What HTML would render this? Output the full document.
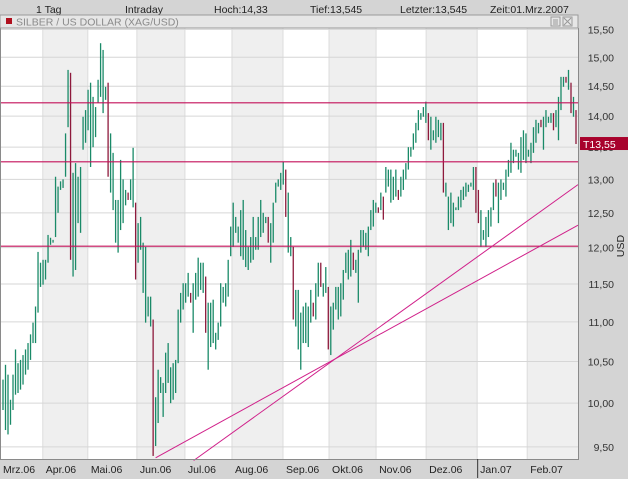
<!DOCTYPE html>
<html><head><meta charset="utf-8"><style>
html,body{margin:0;padding:0;background:#d4d4d4;}
svg{display:block;font-family:"Liberation Sans",Arial,sans-serif;}
</style></head><body>
<svg id="chart" width="628" height="479" viewBox="0 0 628 479" xmlns="http://www.w3.org/2000/svg">
<rect x="0" y="0" width="628" height="479" fill="#d4d4d4"/>
<g font-size="10.5" fill="#222">
<text x="36" y="13">1 Tag</text>
<text x="125" y="13">Intraday</text>
<text x="214" y="13">Hoch:14,33</text>
<text x="310" y="13">Tief:13,545</text>
<text x="400" y="13">Letzter:13,545</text>
<text x="490" y="13">Zeit:01.Mrz.2007</text>
</g>
<g id="plot"></g>
<g>
<rect x="0" y="15" width="578" height="13" fill="#e6e6e6" stroke="#9a9a9a" stroke-width="1"/>
<rect x="6" y="18" width="6" height="6" fill="#b0101e"/>
<text x="16" y="25.5" font-size="10.5" fill="#8a8a8a">SILBER / US DOLLAR (XAG/USD)</text>
<rect x="551" y="17" width="9" height="9" fill="none" stroke="#999"/>
<rect x="563" y="17" width="9" height="9" fill="none" stroke="#999"/>
<path d="M564 18 L571 25 M571 18 L564 25 M553 20h5 M553 22h5 M553 24h5" stroke="#999" stroke-width="1"/>
</g>
<g id="yaxis" font-size="10.5" fill="#333"></g>
<g id="xaxis" font-size="10.5" fill="#222"></g>
<text x="0" y="0" transform="translate(624,246) rotate(-90)" text-anchor="middle" font-size="10.5" fill="#222">USD</text>
</svg>
<script>
const highs=[10.28,10.46,10.34,10.04,10.34,10.65,10.48,10.52,10.58,10.65,10.73,10.84,10.99,11.20,11.94,11.79,11.83,11.83,12.18,12.14,12.11,13.04,12.89,12.97,13.00,13.72,14.78,14.73,13.10,13.25,13.04,13.19,13.99,14.10,14.44,14.56,14.32,14.15,14.61,15.25,15.13,14.49,14.56,13.72,13.41,12.69,12.69,13.30,13.00,12.84,12.80,13.00,13.49,12.65,12.35,12.44,12.07,12.01,11.33,11.33,11.03,10.07,10.40,10.31,10.24,10.61,10.73,10.43,10.48,10.52,11.16,11.38,11.51,11.51,11.65,11.38,11.51,11.65,11.86,11.79,11.79,11.60,11.25,11.25,11.29,10.86,10.99,11.51,11.46,11.51,11.83,12.30,12.65,12.44,12.30,12.54,12.69,12.25,12.01,12.15,12.44,12.15,12.44,12.69,12.50,12.44,12.44,12.35,12.65,12.95,13.00,13.10,13.27,13.15,12.80,12.15,12.01,11.42,11.42,11.12,11.20,11.25,11.20,11.42,11.25,11.51,11.79,11.79,11.51,11.73,11.46,11.20,11.25,11.46,11.46,11.51,11.69,11.93,11.97,12.11,11.93,11.83,11.97,12.25,12.25,12.21,12.30,12.54,12.69,12.65,12.58,12.80,12.74,13.19,13.15,13.15,13.04,13.15,12.84,13.04,13.15,13.25,13.50,13.50,13.72,13.89,14.10,14.05,14.15,14.24,14.05,13.99,13.77,13.99,13.94,13.89,13.89,12.95,12.74,12.80,12.65,12.58,12.74,12.84,12.89,12.95,12.92,12.95,13.19,13.19,12.84,12.54,12.25,12.44,12.54,12.58,12.95,13.00,12.95,13.00,12.95,13.15,13.30,13.57,13.46,13.46,13.41,13.66,13.77,13.72,13.46,13.57,13.82,13.94,13.89,13.94,13.99,14.10,13.99,14.05,14.05,14.10,14.32,14.66,14.66,14.66,14.78,14.56,14.32,14.10];
const lows=[9.92,9.69,9.64,9.75,9.92,10.10,10.12,10.16,10.22,10.34,10.40,10.52,10.73,10.73,11.12,11.46,11.49,11.56,11.79,12.04,12.07,12.15,12.50,12.84,12.87,13.04,13.82,11.83,11.60,11.69,12.35,12.21,13.46,13.57,13.77,13.19,13.50,13.66,14.22,14.32,14.05,14.27,13.04,12.80,12.54,12.07,11.93,12.25,12.35,12.61,12.69,12.69,12.58,11.56,11.79,11.97,11.38,10.99,11.07,10.94,9.40,9.51,9.77,10.12,9.84,10.12,10.24,10.00,10.04,10.12,10.48,10.99,11.16,11.25,11.33,11.25,10.86,11.29,11.33,11.42,11.38,10.86,10.40,10.68,10.73,10.65,10.77,10.94,11.25,11.20,11.33,11.88,12.01,12.21,12.07,11.88,11.83,11.73,11.69,11.79,11.83,11.97,11.97,12.15,12.21,12.35,12.07,11.79,12.07,12.65,12.89,12.84,12.92,12.44,11.93,11.88,11.03,10.94,10.65,10.40,10.73,10.73,10.68,10.99,11.07,11.03,11.33,11.46,11.33,11.38,10.65,10.58,10.90,11.16,11.03,11.07,11.29,11.65,11.56,11.60,11.69,11.65,11.25,11.93,12.01,11.97,11.88,12.25,12.30,12.50,12.50,12.54,12.40,12.80,12.89,12.65,12.69,12.74,12.69,12.74,12.84,13.00,13.15,13.35,13.46,13.57,13.77,13.94,13.99,13.89,13.61,13.46,13.61,13.57,13.66,13.61,12.80,12.74,12.25,12.35,12.30,12.54,12.54,12.58,12.69,12.74,12.81,12.89,12.84,12.50,12.35,12.01,12.11,12.01,12.15,12.30,12.54,12.74,12.35,12.69,12.84,12.74,13.04,13.10,13.25,13.35,13.15,13.10,13.30,13.25,13.35,13.25,13.41,13.57,13.72,13.82,13.46,13.82,13.89,13.89,13.77,13.82,13.61,14.10,14.49,14.56,14.44,14.05,13.99,13.55];
const downBars=[27,42,50,53,60,75,81,106,113,116,124,127,130,140,150,152,158,170,176,189,190,197,215,220,225,227,229];
const monthLabels=["Mrz.06","Apr.06","Mai.06","Jun.06","Jul.06","Aug.06","Sep.06","Okt.06","Nov.06","Dez.06","Jan.07","Feb.07"];
const monthStarts=[-0.8,16.4,34.4,54,73.2,92,112.4,130.8,149.6,169.6,190,210];
const yTicks=[15.5,15,14.5,14,13.5,13,12.5,12,11.5,11,10.5,10,9.5];
const yTickLabels=["15,50","15,00","14,50","14,00","13,50","13,00","12,50","12,00","11,50","11,00","10,50","10,00","9,50"];
const hLines=[14.22,13.27,12.02];
const trendA=[[61,9.38],[229.8,12.32]];
const trendB=[[76.2,9.35],[229.8,12.92]];
const lastPrice=13.55, lastLabel="T13,55";

const NS="http://www.w3.org/2000/svg";
const PL=0,PR=578,PT=28,PB=459;
const n=highs.length;
function xScale(i){return 3+i*(573/(n-1));}
function yScale(p){return 57.3+853*Math.log(15/p);}
function mk(tag,attrs,parent){const e=document.createElementNS(NS,tag);for(const k in attrs)e.setAttribute(k,attrs[k]);parent.appendChild(e);return e;}
const plot=document.getElementById('plot');
const bg=mk('rect',{x:PL,y:PT,width:PR-PL,height:PB-PT,fill:'#ffffff'},plot);


for(let m=0;m<monthStarts.length;m++){
  const x0=Math.max(PL,xScale(monthStarts[m])-1.25);
  const x1=m+1<monthStarts.length?xScale(monthStarts[m+1])-1.25:PR;
  if(m%2===1){
    const b=mk('rect',{x:x0,y:PT,width:x1-x0,height:PB-PT,fill:'#efefef'},plot);
    
    
  }
  if(m>0){
    const g=mk('line',{x1:x0,x2:x0,y1:PT,y2:PB,stroke:'#dcdcdc','stroke-width':1},plot);
    
    
  }
}
const yaxis=document.getElementById('yaxis');
yTicks.forEach((v,i)=>{
  const y=yScale(v);
  if(y>PT){
    const g=mk('line',{x1:PL,x2:PR,y1:y,y2:y,stroke:'#d6d6d6','stroke-width':1},plot);
    
    
  }
  const t=mk('text',{x:614,y:y+4,'text-anchor':'end'},yaxis);
  t.textContent=yTickLabels[i];
  
  
});
for(let i=0;i<n;i++){
  const x=xScale(i);
  const down=downBars.indexOf(i)>=0;
  const y1=yScale(highs[i]),y2=yScale(lows[i]);
  const r=mk('rect',{x:x-0.65,y:y1,width:1.3,height:Math.max(1.5,y2-y1),fill:down?'#8e1a3c':'#1a8a68'},plot);
  
  
}
hLines.forEach(v=>{
  const y=yScale(v);
  const l=mk('line',{x1:PL,x2:PR,y1:y,y2:y,stroke:'#c4105a','stroke-width':1.1},plot);
  
  
});
[trendA,trendB].forEach(tl=>{
  const l=mk('line',{x1:xScale(tl[0][0]),y1:yScale(tl[0][1]),x2:xScale(tl[1][0]),y2:yScale(tl[1][1]),stroke:'#d0208a','stroke-width':1},plot);
  
  
});
const fr=mk('path',{d:`M${PL+0.5} ${PT} V${PB+0.5} H${PR+0.5} V${PT}`,fill:'none',stroke:'#8a8a8a','stroke-width':1},plot);


const ly=yScale(lastPrice);
const badge=mk('rect',{x:580,y:ly-7,width:48,height:13,fill:'#a8022c'},yaxis);


const bt=mk('text',{x:583,y:ly+4,fill:'#ffffff'},yaxis);
bt.textContent=lastLabel;


const xaxis=document.getElementById('xaxis');
monthLabels.forEach((lab,m)=>{
  const x=Math.max(PL,xScale(monthStarts[m])-1.25);
  const t=mk('text',{x:x+3,y:473},xaxis);
  t.textContent=lab;
  
  
  if(lab==="Jan.07"){
    const tk=mk('line',{x1:x+0.5,x2:x+0.5,y1:PB,y2:478,stroke:'#333','stroke-width':1},xaxis);
    
    
  }
});
</script>
</body></html>
